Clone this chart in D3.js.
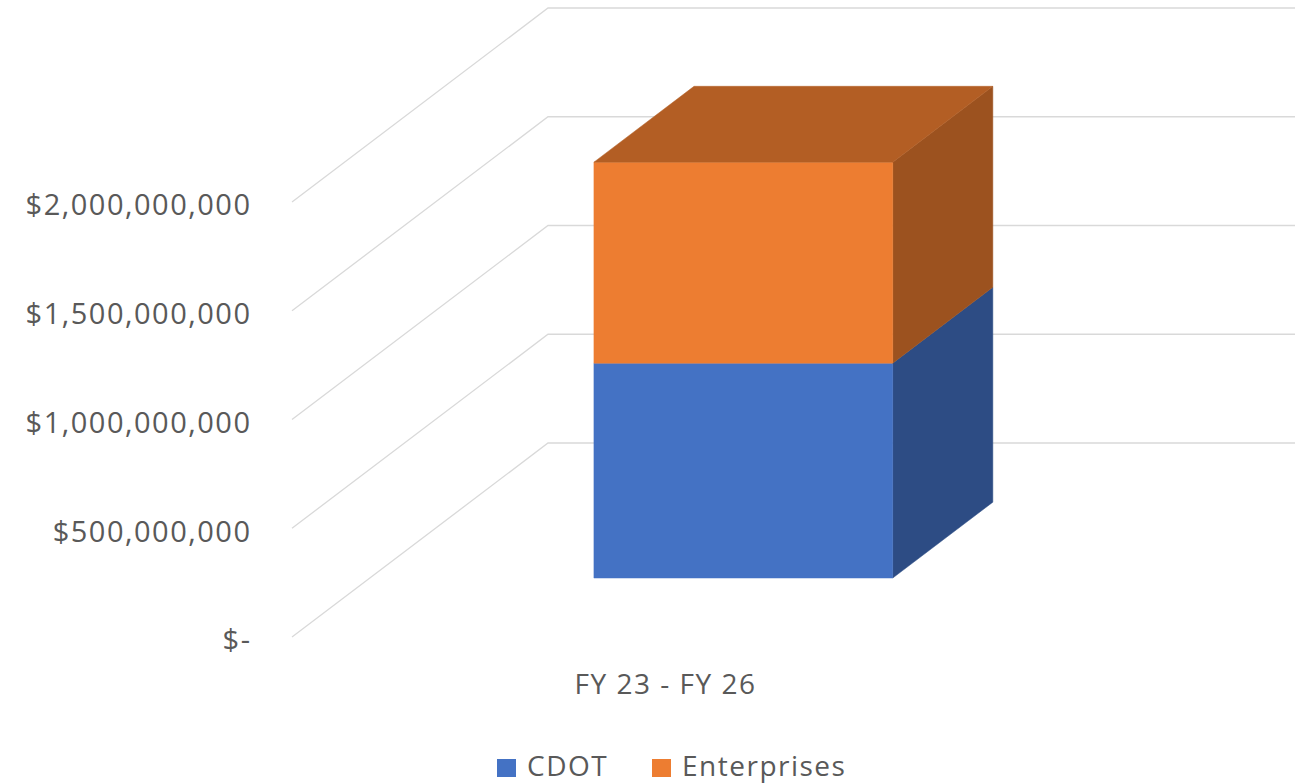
<!DOCTYPE html>
<html>
<head>
<meta charset="utf-8">
<script src="https://cdn.jsdelivr.net/npm/d3@7"></script>
<style>
  html, body { margin: 0; padding: 0; background: #ffffff; }
  svg { display: block; }
  text { font-family: "Open Sans", "Noto Sans", sans-serif; fill: #595959; }
</style>
</head>
<body>
<svg id="chart" width="1299" height="784"></svg>
<script>
// Funding by source, stacked in one 3-D column
const categories = ["FY 23 - FY 26"];
const seriesNames = ["CDOT", "Enterprises"];
const cdotValues = [988000000];
const enterpriseValues = [924000000];
const tickValues = [0, 500000000, 1000000000, 1500000000, 2000000000];
const tickLabels = ["$-", "$500,000,000", "$1,000,000,000", "$1,500,000,000", "$2,000,000,000"];

const frontColors = ["#4472C4", "#ED7D31"];
const sideColors  = ["#2D4C84", "#9C521F"];
const topColors   = ["#35599C", "#B35E24"];

const svg = d3.select("#chart");

// Floor front edge and oblique depth vector
const floorLeft = 292, floorRight = 1039;
const depthDX = 256, depthDY = -194;

const y = d3.scaleLinear().domain([0, 2000000000]).range([637, 202]);
const x = d3.scaleBand().domain(categories).range([floorLeft, floorRight])
  .paddingInner(0).paddingOuter(0.75);
const depth = d3.scaleLinear().domain([0, 1]).range([0, 1]);

// oblique projection: front-plane x, value, depth fraction -> screen point
function proj(px, v, d) {
  return [px + depth(d) * depthDX, y(v) + depth(d) * depthDY];
}

// Gridlines: side wall diagonal then back wall horizontal
const grid = svg.append("g");
tickValues.forEach(v => {
  const pts = [proj(floorLeft, v, 0), proj(floorLeft, v, 1), proj(floorRight, v, 1)];
  grid.append("path")
    .attr("d", d3.line()(pts))
    .attr("fill", "none")
    .attr("stroke", "#d9d9d9")
    .attr("stroke-width", 1.3);
});

// Value axis labels
svg.append("g").selectAll("text")
  .data(tickValues)
  .join("text")
  .attr("x", 251.5)
  .attr("y", (d) => y(d))
  .attr("dy", "0.46em")
  .attr("text-anchor", "end")
  .attr("font-size", 29)
  .attr("letter-spacing", 1.5)
  .text((d, i) => tickLabels[i]);

// Stacked 3-D column
const table = categories.map((c, i) => ({ cat: c, CDOT: cdotValues[i], Enterprises: enterpriseValues[i] }));
const stacked = d3.stack().keys(seriesNames)(table);

const d0 = 0.304, d1 = 0.695;
const bars = svg.append("g");
table.forEach((row, ci) => {
  const x0 = x(row.cat), x1 = x(row.cat) + x.bandwidth();
  stacked.forEach((layer, si) => {
    const lo = layer[ci][0], hi = layer[ci][1];
    // front face
    const front = [proj(x0, lo, d0), proj(x1, lo, d0), proj(x1, hi, d0), proj(x0, hi, d0)];
    // right side face
    const side = [proj(x1, lo, d0), proj(x1, lo, d1), proj(x1, hi, d1), proj(x1, hi, d0)];
    bars.append("path").attr("d", d3.line()(side) + "Z").attr("fill", sideColors[si])
      .attr("stroke", sideColors[si]).attr("stroke-width", 0.5);
    bars.append("path").attr("d", d3.line()(front) + "Z").attr("fill", frontColors[si])
      .attr("stroke", frontColors[si]).attr("stroke-width", 0.5);
    if (si === stacked.length - 1) {
      const top = [proj(x0, hi, d0), proj(x1, hi, d0), proj(x1, hi, d1), proj(x0, hi, d1)];
      bars.append("path").attr("d", d3.line()(top) + "Z").attr("fill", topColors[si])
        .attr("stroke", topColors[si]).attr("stroke-width", 0.5);
    }
  });
});

// Category label
svg.append("g").selectAll("text")
  .data(categories)
  .join("text")
  .attr("x", d => x(d) + x.bandwidth() / 2)
  .attr("y", 694)
  .attr("text-anchor", "middle")
  .attr("font-size", 28)
  .attr("letter-spacing", 1.5)
  .text(d => d);

// Legend
const legendItems = [
  { name: seriesNames[0], color: frontColors[0], x: 497 },
  { name: seriesNames[1], color: frontColors[1], x: 652 }
];
const legend = svg.append("g");
legendItems.forEach(it => {
  legend.append("rect").attr("x", it.x).attr("y", 759).attr("width", 19).attr("height", 18)
    .attr("fill", it.color);
  legend.append("text").attr("x", it.x + 30).attr("y", 776)
    .attr("font-size", 28).attr("letter-spacing", 1.5).text(it.name);
});
</script>
</body>
</html>
